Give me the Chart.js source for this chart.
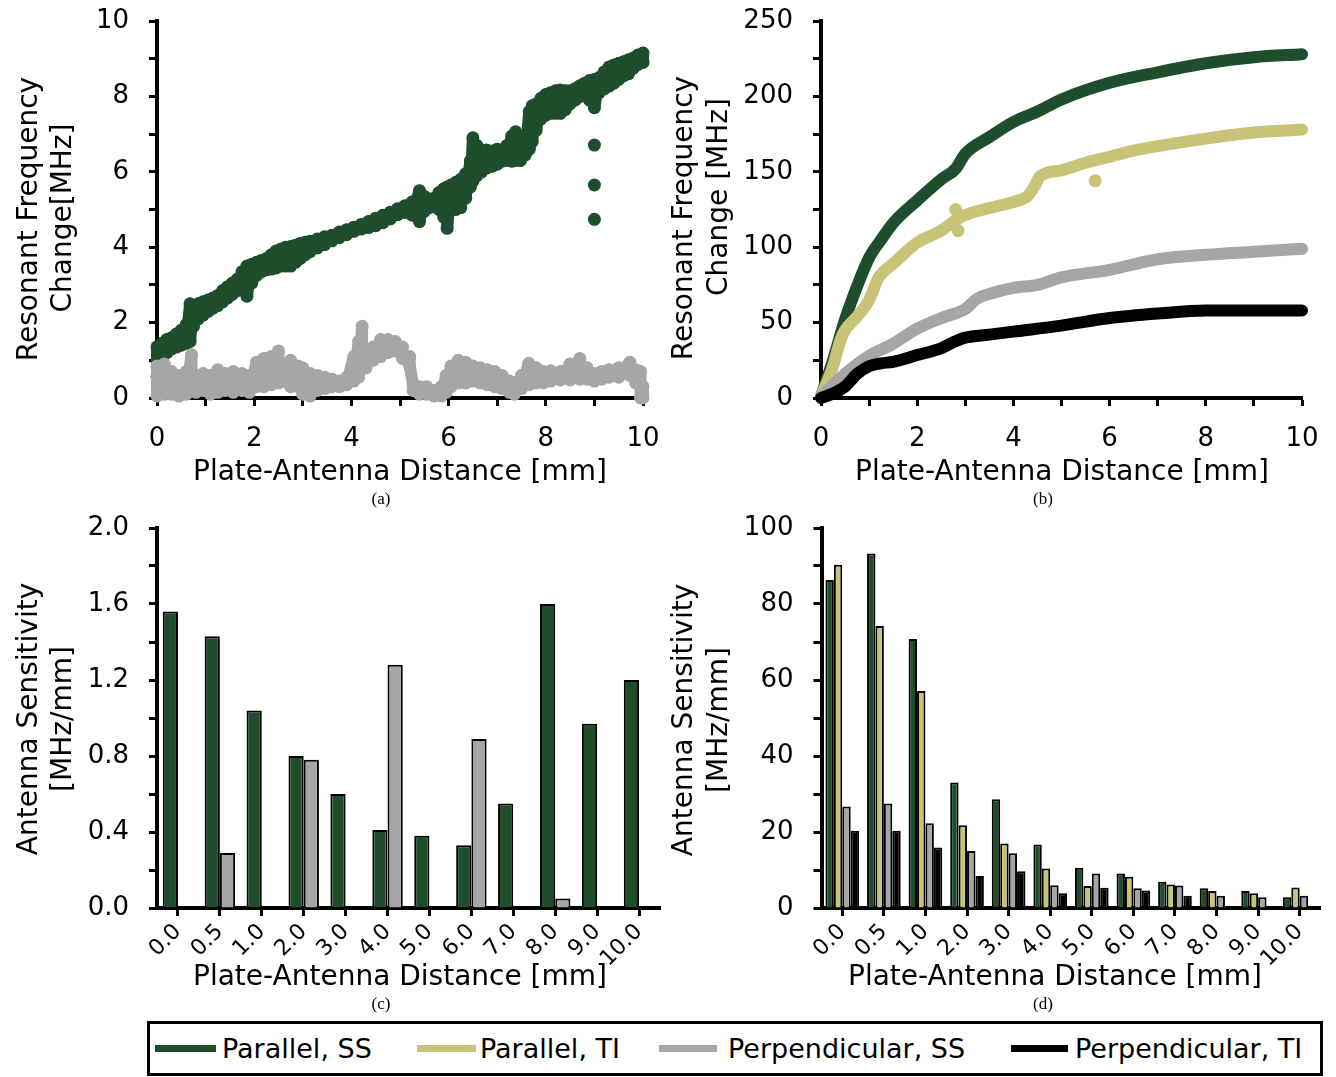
<!DOCTYPE html>
<html><head><meta charset="utf-8">
<script src="https://cdn.jsdelivr.net/npm/chart.js@4.4.1/dist/chart.umd.min.js"></script>
<style>
body{margin:0;background:#fff;width:1336px;height:1077px;position:relative;overflow:hidden;font-family:'DejaVu Sans',sans-serif;}
canvas{position:absolute;}
.t{position:absolute;white-space:nowrap;font-size:28px;line-height:1;color:#000;transform:translate(-50%,-50%);}
.r{transform:translate(-50%,-50%) rotate(-90deg);}
.cap{position:absolute;font-family:'Liberation Serif',serif;font-size:17px;line-height:1;transform:translate(-50%,-50%);}
#legend{position:absolute;left:147px;top:1021px;width:1170px;height:49px;border:3px solid #000;}
.sw{position:absolute;height:7px;top:1045px;}
.lt{position:absolute;font-size:27px;line-height:1;top:1048px;transform:translateY(-50%);white-space:nowrap;}
</style></head><body>
<canvas id="ca" width="670" height="490" style="left:0;top:0"></canvas>
<canvas id="cb" width="668" height="490" style="left:668px;top:0"></canvas>
<canvas id="cc" width="670" height="460" style="left:0;top:505px"></canvas>
<canvas id="cd" width="668" height="460" style="left:668px;top:505px"></canvas>

<div class="t r" style="left:28px;top:219px">Resonant Frequency</div>
<div class="t r" style="left:62px;top:218px">Change[MHz]</div>
<div class="t" style="left:400px;top:471px">Plate-Antenna Distance [mm]</div>
<div class="cap" style="left:381px;top:498px">(a)</div>

<div class="t r" style="left:683px;top:218px">Resonant Frequency</div>
<div class="t r" style="left:718px;top:197px">Change [MHz]</div>
<div class="t" style="left:1062px;top:471px">Plate-Antenna Distance [mm]</div>
<div class="cap" style="left:1043px;top:498px">(b)</div>

<div class="t r" style="left:28px;top:719px">Antenna Sensitivity</div>
<div class="t r" style="left:62px;top:719px">[MHz/mm]</div>
<div class="t" style="left:400px;top:976px">Plate-Antenna Distance [mm]</div>
<div class="cap" style="left:381px;top:1003px">(c)</div>

<div class="t r" style="left:683px;top:720px">Antenna Sensitivity</div>
<div class="t r" style="left:718px;top:720px">[MHz/mm]</div>
<div class="t" style="left:1055px;top:976px">Plate-Antenna Distance [mm]</div>
<div class="cap" style="left:1043px;top:1003px">(d)</div>

<div id="legend"></div>
<div class="sw" style="left:155px;width:61px;background:#1F4E2C"></div>
<div class="lt" style="left:222px">Parallel, SS</div>
<div class="sw" style="left:417px;width:59px;background:#C9C378"></div>
<div class="lt" style="left:480px">Parallel, TI</div>
<div class="sw" style="left:659px;width:58px;background:#A6A6A6"></div>
<div class="lt" style="left:728px">Perpendicular, SS</div>
<div class="sw" style="left:1011px;width:57px;background:#000"></div>
<div class="lt" style="left:1075px">Perpendicular, TI</div>

<script>
// ---------- Panel (a): noisy scatter, read as upper / lower edge of the point cloud ----------
const aParSS_x  = [0.0,0.1,0.2,0.3,0.4,0.5,0.6,0.68,0.75,0.85,0.95,1.05,1.15,1.25,1.35,1.45,1.55,1.65,1.75,1.85,1.95,2.05,2.15,2.25,2.35,2.45,2.55,2.65,2.75,2.85,2.95,3.05,3.15,3.3,3.45,3.6,3.75,3.9,4.05,4.2,4.35,4.5,4.65,4.8,4.95,5.1,5.25,5.4,5.5,5.6,5.7,5.8,5.9,5.97,6.05,6.15,6.25,6.35,6.45,6.5,6.58,6.68,6.78,6.9,7.0,7.1,7.2,7.3,7.38,7.48,7.58,7.66,7.72,7.8,7.9,8.0,8.1,8.2,8.3,8.4,8.5,8.6,8.7,8.8,8.9,9.0,9.1,9.2,9.3,9.4,9.5,9.6,9.7,9.8,9.9,10.0];
const aParSS_hi = [1.36,1.45,1.55,1.6,1.7,1.8,1.95,2.5,2.45,2.5,2.55,2.6,2.65,2.72,2.85,2.95,3.05,3.15,3.35,3.5,3.55,3.6,3.65,3.7,3.8,3.9,3.95,4.0,4.02,4.05,4.1,4.13,4.16,4.22,4.28,4.32,4.4,4.46,4.53,4.6,4.68,4.77,4.85,4.93,5.02,5.1,5.2,5.5,5.35,5.28,5.3,5.45,5.55,5.6,5.65,5.72,5.8,5.95,6.3,6.9,6.7,6.45,6.58,6.55,6.6,6.55,6.7,6.95,7.06,6.7,6.95,7.6,7.75,7.8,7.95,8.05,8.1,8.15,8.17,8.15,8.15,8.2,8.28,8.35,8.42,8.45,8.5,8.65,8.78,8.83,8.88,8.92,8.97,9.02,9.1,9.15];
const aParSS_lo = [0.57,1.0,1.2,1.3,1.35,1.4,1.45,1.5,1.9,2.1,2.2,2.3,2.38,2.45,2.55,2.65,2.75,2.85,2.95,2.7,3.05,3.25,3.35,3.4,3.42,3.45,3.5,3.5,3.5,3.6,3.7,3.8,3.88,3.98,4.07,4.17,4.25,4.33,4.42,4.48,4.52,4.57,4.65,4.75,4.86,4.92,4.85,4.68,4.95,5.05,5.1,5.0,4.8,4.5,5.0,5.0,5.05,5.3,5.6,5.75,5.9,6.0,6.1,6.15,6.2,6.28,6.3,6.28,6.3,6.3,6.45,6.6,6.8,7.1,7.4,7.5,7.55,7.55,7.55,7.65,7.8,7.9,8.0,8.05,7.9,7.7,8.1,8.2,8.27,8.35,8.45,8.55,8.6,8.75,8.85,8.9];
const aParSSOut_x = [9.0,9.0,9.0];
const aParSSOut_y = [6.71,5.65,4.74];
const aPerpSS_x  = [0.0,0.15,0.3,0.45,0.6,0.71,0.8,0.95,1.1,1.25,1.4,1.57,1.75,1.9,2.05,2.2,2.35,2.5,2.6,2.75,2.9,3.0,3.15,3.3,3.45,3.6,3.75,3.9,4.05,4.15,4.22,4.3,4.45,4.6,4.75,4.9,5.05,5.2,5.27,5.4,5.55,5.7,5.85,5.95,6.05,6.2,6.35,6.5,6.65,6.8,6.95,7.1,7.25,7.35,7.5,7.65,7.8,7.95,8.1,8.3,8.5,8.7,8.85,9.0,9.15,9.3,9.5,9.73,9.85,9.95,10.0];
const aPerpSS_hi = [0.85,0.9,0.7,0.6,0.7,1.15,0.6,0.65,0.6,0.75,0.65,0.7,0.65,0.6,0.95,1.05,1.1,1.25,0.9,1.0,0.85,0.8,0.65,0.6,0.55,0.5,0.45,0.55,1.1,1.5,1.9,1.2,1.35,1.55,1.55,1.5,1.35,1.1,0.35,0.3,0.3,0.2,0.3,0.6,0.85,1.0,0.95,0.85,0.8,0.75,0.7,0.6,0.45,0.4,0.6,0.92,0.8,0.7,0.72,0.7,0.9,1.05,0.8,0.65,0.7,0.75,0.8,0.95,0.75,0.7,0.3];
const aPerpSS_lo = [0.05,0.1,0.1,0.05,0.1,0.2,0.15,0.2,0.1,0.15,0.2,0.15,0.2,0.15,0.3,0.3,0.35,0.4,0.45,0.3,0.3,0.1,0.05,0.2,0.25,0.3,0.3,0.35,0.45,0.55,0.8,0.8,1.0,1.1,1.2,1.25,1.05,0.85,0.2,0.1,0.1,0.05,0.05,0.15,0.3,0.4,0.4,0.45,0.4,0.35,0.3,0.25,0.15,0.1,0.25,0.35,0.4,0.4,0.45,0.48,0.48,0.5,0.5,0.45,0.5,0.55,0.55,0.6,0.4,0.0,0.0];

// ---------- Panel (b): resonant frequency change, four series ----------
const bParSS_x = [0,0.25,0.5,0.75,1,1.25,1.5,2,2.5,2.8,3,3.5,4,4.5,5,6,7,8,9,10];
const bParSS_y = [1,25,52,74,93,105,116,131,145,152,162,173,183,190,198,209,216,222,226,228];
const bParTI_x = [0,0.25,0.4,0.5,0.75,1,1.2,1.5,2,2.5,2.9,3.5,4,4.3,4.45,4.55,5,5.5,6,6.5,7,8,9,10];
const bParTI_y = [1,21,38,45,54,65,80,89,103,111,120,126,130,134,141,147,151,156,160,164,167,172,176,178];
const bParTIOut_x = [2.8,2.85,5.7];
const bParTIOut_y = [125,111,144];
const bPerpSS_x = [0,0.5,1,1.5,2,2.5,3,3.25,3.5,4,4.5,5,6,7,8,9,10];
const bPerpSS_y = [1,16,28,36,46,53,59,66,69,73,75,80,85,92,95,97,99];
const bPerpTI_x = [0,0.25,0.5,0.75,1,1.25,1.5,2,2.5,2.75,3,3.5,4,5,6,7,8,9,10];
const bPerpTI_y = [0,3,7.5,16,21,23,24,28.5,33,37,40,42,44,48,53,56,58,58,58];

// ---------- Panel (c) and (d): antenna sensitivity bars ----------
const distLabels = ["0.0","0.5","1.0","2.0","3.0","4.0","5.0","6.0","7.0","8.0","9.0","10.0"];
const cParSS  = [1.56,1.43,1.04,0.80,0.60,0.41,0.38,0.33,0.55,1.60,0.97,1.20];
const cPerpSS = [0,0.29,0,0.78,0,1.28,0,0.89,0,0.05,0,0];
const dParSS  = [86.3,93.3,70.8,33.0,28.6,16.7,10.6,9.1,6.9,5.2,4.5,2.8];
const dParTI  = [90.3,74.2,57.1,21.8,17.0,10.4,5.8,8.2,6.2,4.5,3.9,5.4];
const dPerpSS = [26.7,27.5,22.3,15.0,14.4,6.0,9.1,5.2,5.9,3.2,2.8,3.2];
const dPerpTI = [20.3,20.3,15.9,8.4,9.7,3.9,5.3,4.6,3.2,0,0,0];

const GREEN = '#1F4E2C', YELLOW = '#C9C378', GRAY = '#A6A6A6', BLACK = '#000000';
const FONT = {family:'DejaVu Sans', size:26};
const pts = (xs, ys) => xs.map((x, i) => ({x: x, y: ys[i]}));
// zig-zag between the read upper and lower edges of a point cloud
const cloud = (xs, hi, lo) => {
  const out = [];
  xs.forEach((x, i) => { out.push({x: x, y: hi[i]}); out.push({x: x, y: lo[i]}); });
  return out;
};
// fix axis box size and drop the label-overflow padding so the plot area sits where wanted
function fixBox(s, isX, fit){
  if (isX) s.height = fit; else s.width = fit;
  s.paddingTop = 0; s.paddingBottom = 0; s.paddingLeft = 0; s.paddingRight = 0;
}

function linAxis(min, max, step, fmt, fit, isX){
  return {
    type:'linear', min:min, max:max,
    ticks:{stepSize:step, autoSkip:false, maxRotation:0, color:'#000', font:FONT,
           padding: isX ? 18 : 20,
           callback:(v, i) => (i % 2 === 0 ? fmt(v) : '')},
    grid:{drawOnChartArea:false, drawTicks:true, tickLength:8, tickWidth:3, color:'#000'},
    border:{display:true, color:'#000', width:4},
    afterFit: s => fixBox(s, isX, fit)
  };
}
function cloudDS(data, color){
  return {data: data, showLine:true, borderColor:color, backgroundColor:color,
          borderWidth:12, pointRadius:6.5, pointBorderWidth:0, pointHoverRadius:6.5,
          borderJoinStyle:'round', borderCapStyle:'round', clip:false};
}
function lineDS(xs, ys, color){
  return {data: pts(xs, ys), showLine:true, borderColor:color, backgroundColor:color,
          borderWidth:12, pointRadius:0, pointHoverRadius:0, cubicInterpolationMode:'monotone',
          borderJoinStyle:'round', borderCapStyle:'round', clip:false};
}
function dotDS(xs, ys, color){
  return {data: pts(xs, ys), showLine:false, backgroundColor:color, borderColor:color,
          pointRadius:6.5, pointBorderWidth:0, pointHoverRadius:6.5, clip:false};
}
const common = {responsive:false, animation:false, events:[],
  plugins:{legend:{display:false}, tooltip:{enabled:false}}};

// (a)
new Chart(document.getElementById('ca'), {
  type:'scatter',
  data:{datasets:[
    cloudDS(cloud(aPerpSS_x, aPerpSS_hi, aPerpSS_lo), GRAY),
    cloudDS(cloud(aParSS_x, aParSS_hi, aParSS_lo), GREEN),
    dotDS(aParSSOut_x, aParSSOut_y, GREEN)
  ]},
  options:Object.assign({}, common, {
    layout:{padding:{left:0, top:21, right:27, bottom:0}},
    scales:{
      x: linAxis(0, 10, 1, v => String(v), 92, true),
      y: linAxis(0, 10, 1, v => String(v), 157, false)
    }
  })
});

// (b)
new Chart(document.getElementById('cb'), {
  type:'scatter',
  data:{datasets:[
    lineDS(bPerpTI_x, bPerpTI_y, BLACK),
    lineDS(bPerpSS_x, bPerpSS_y, GRAY),
    dotDS(bParTIOut_x, bParTIOut_y, YELLOW),
    lineDS(bParTI_x, bParTI_y, YELLOW),
    lineDS(bParSS_x, bParSS_y, GREEN)
  ]},
  options:Object.assign({}, common, {
    layout:{padding:{left:0, top:21, right:34, bottom:0}},
    scales:{
      x: linAxis(0, 10, 1, v => String(v), 92, true),
      y: linAxis(0, 250, 25, v => String(v), 153, false)
    }
  })
});

function catAxis(fit){
  return {
    type:'category', offset:true, z:1,
    ticks:{autoSkip:false, minRotation:45, maxRotation:45, color:'#000',
           font:{family:'DejaVu Sans', size:22}, padding:3, labelOffset:0},
    grid:{offset:false, drawOnChartArea:false, drawTicks:true, tickLength:8, tickWidth:3, color:'#000'},
    border:{display:true, color:'#000', width:4},
    afterFit: s => fixBox(s, true, fit)
  };
}
function barDS(vals, color){
  return {data: vals, backgroundColor:color, borderColor:'#000', borderWidth:2, borderSkipped:'start'};
}

// (c)
const cY = linAxis(0, 2, 0.2, v => v.toFixed(1), 157, false); cY.z = 1;
new Chart(document.getElementById('cc'), {
  type:'bar',
  data:{labels: distLabels, datasets:[barDS(cParSS, GREEN), barDS(cPerpSS, GRAY)]},
  options:Object.assign({}, common, {
    datasets:{bar:{categoryPercentage:0.727, barPercentage:1.0}},
    layout:{padding:{left:0, top:23, right:10, bottom:0}},
    scales:{ x: catAxis(57), y: cY }
  })
});

// (d)
const dY = linAxis(0, 100, 10, v => String(v), 153.5, false); dY.z = 1;
new Chart(document.getElementById('cd'), {
  type:'bar',
  data:{labels: distLabels, datasets:[barDS(dParSS, GREEN), barDS(dParTI, YELLOW), barDS(dPerpSS, GRAY), barDS(dPerpTI, BLACK)]},
  options:Object.assign({}, common, {
    datasets:{bar:{categoryPercentage:0.81, barPercentage:1.0}},
    layout:{padding:{left:0, top:23, right:15.5, bottom:0}},
    scales:{ x: catAxis(57), y: dY }
  })
});
</script>
</body></html>
